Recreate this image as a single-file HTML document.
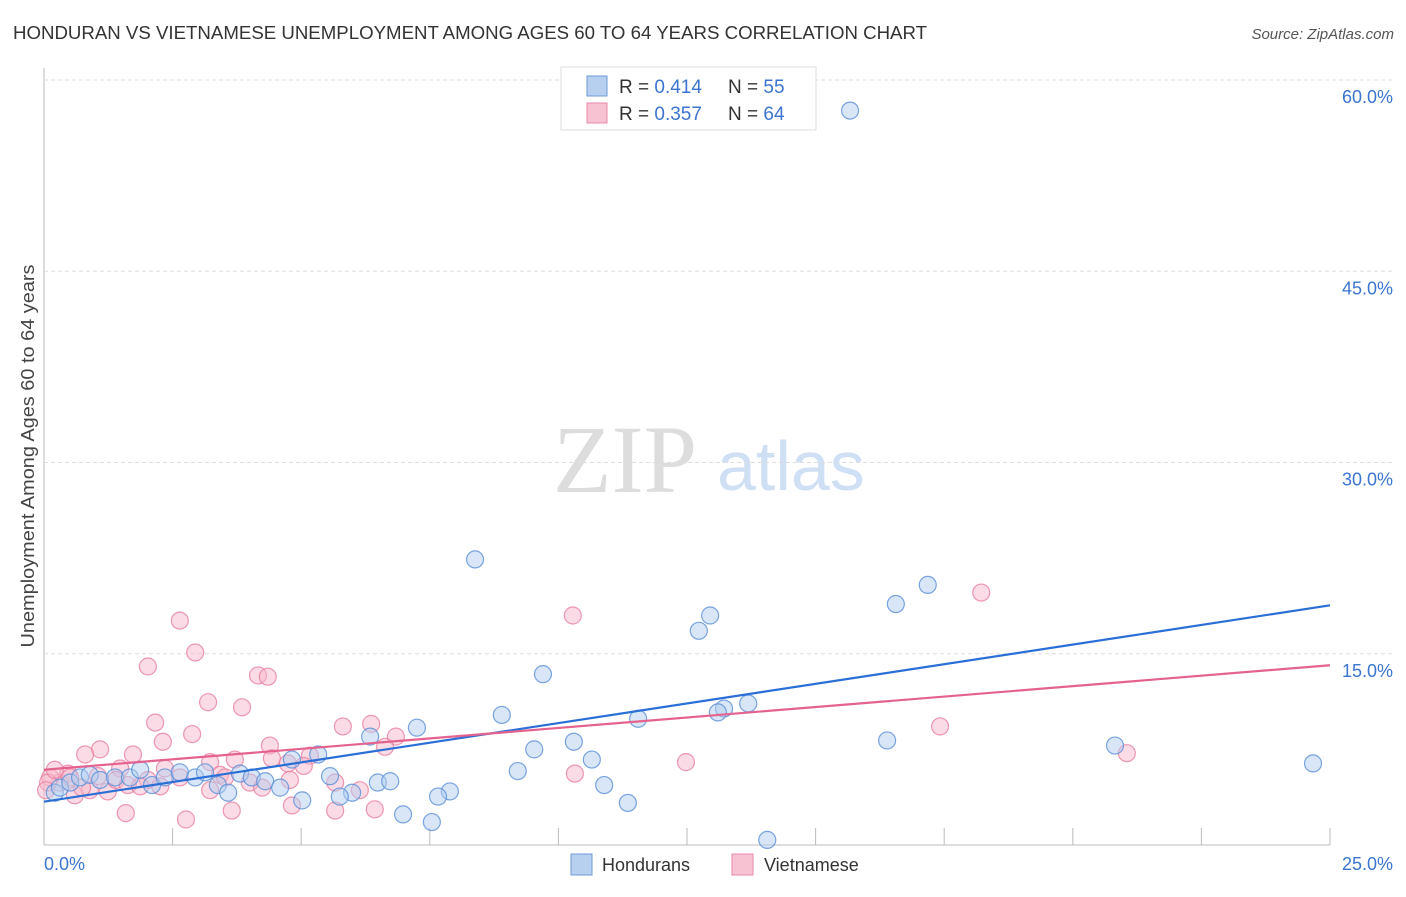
<!DOCTYPE html>
<html><head><meta charset="utf-8"><style>
body{margin:0;background:#fff;font-family:"Liberation Sans",sans-serif}
</style></head><body>
<svg width="1406" height="892" xmlns="http://www.w3.org/2000/svg" id="chart">
<text x="13" y="39" font-size="18" fill="#333" textLength="914" lengthAdjust="spacingAndGlyphs">HONDURAN VS VIETNAMESE UNEMPLOYMENT AMONG AGES 60 TO 64 YEARS CORRELATION CHART</text>
<text x="1394" y="39" font-size="15" fill="#555" font-style="italic" text-anchor="end">Source: ZipAtlas.com</text>
<text transform="translate(34,456) rotate(-90)" font-size="18" fill="#444" text-anchor="middle" textLength="383" lengthAdjust="spacingAndGlyphs">Unemployment Among Ages 60 to 64 years</text>
<g><text x="553" y="492" font-family="Liberation Serif,serif" font-size="96" fill="#ddd">ZIP</text><text x="717" y="490" font-size="70" fill="#cfe0f4">atlas</text></g>
<g id="grid"></g><g id="marks"></g>
<g>
<rect x="561" y="67" width="255" height="63" fill="#fff" stroke="#ddd"/>
<rect x="587" y="76" width="20" height="20" fill="#b8d0f0" stroke="#6d9ad8"/>
<text x="619" y="93" font-size="19" fill="#333">R = <tspan fill="#3b75d0">0.414</tspan></text>
<text x="728" y="93" font-size="19" fill="#333">N = <tspan fill="#3b75d0">55</tspan></text>
<rect x="587" y="103" width="20" height="20" fill="#f7c3d3" stroke="#e88aa8"/>
<text x="619" y="120" font-size="19" fill="#333">R = <tspan fill="#3b75d0">0.357</tspan></text>
<text x="728" y="120" font-size="19" fill="#333">N = <tspan fill="#3b75d0">64</tspan></text>
</g>
<g>
<rect x="571" y="854" width="21" height="21" fill="#b8d0f0" stroke="#6d9ad8"/>
<text x="602" y="871" font-size="18" fill="#333">Hondurans</text>
<rect x="732" y="854" width="21" height="21" fill="#f7c3d3" stroke="#e88aa8"/>
<text x="764" y="871" font-size="18" fill="#333">Vietnamese</text>
</g>
</svg>
<script>
const yTicks=[15,30,45,60];
const xTickLabels=["0.0%","25.0%"];
const blueX=[15.67,8.38,17.18,16.56,12.95,12.73,9.70,13.69,13.22,13.10,11.55,8.90,7.25,6.34,5.33,9.53,10.30,16.39,20.82,24.67,10.65,9.21,5.56,6.49,6.73,10.89,7.89,7.66,5.99,5.75,5.02,11.35,6.98,7.54,14.06,0.21,0.31,0.51,0.70,0.89,1.09,1.38,1.67,1.87,2.10,2.35,2.64,2.94,3.13,3.38,3.58,3.81,4.04,4.30,4.59,4.82];
const blueY=[57.6,22.4,20.4,18.9,18.0,16.8,13.4,11.1,10.7,10.4,9.9,10.2,9.2,8.5,7.1,7.5,8.1,8.2,7.8,6.4,6.7,5.8,5.4,4.9,5.0,4.7,4.2,3.8,4.1,3.8,3.5,3.3,2.4,1.8,0.4,4.1,4.5,4.9,5.3,5.5,5.1,5.3,5.3,5.9,4.7,5.3,5.7,5.3,5.7,4.7,4.1,5.6,5.3,5.0,4.5,6.7];
const pinkX=[18.22,10.28,2.64,2.94,2.02,4.16,4.35,3.19,3.85,2.16,2.88,5.81,6.36,6.84,17.42,2.31,1.73,1.09,0.80,21.05,12.48,10.32,4.39,4.43,3.23,3.71,5.17,5.05,4.74,6.63,2.35,3.42,1.48,4.78,4.00,4.24,3.23,0.89,1.24,0.60,0.31,0.12,0.08,0.47,1.40,1.63,2.02,2.64,3.52,5.66,6.14,1.59,2.76,3.65,4.82,5.66,6.43,0.21,0.51,1.05,1.87,2.26,0.04,0.74];
const pinkY=[19.8,18.0,17.6,15.1,14.0,13.3,13.2,11.2,10.8,9.6,8.7,9.3,9.5,8.5,9.3,8.1,7.1,7.5,7.1,7.2,6.5,5.6,7.8,6.8,6.5,6.7,7.0,6.2,6.4,7.7,6.0,5.5,6.0,5.1,4.9,4.5,4.3,4.3,4.2,3.9,4.9,5.3,4.9,5.6,5.1,4.7,5.1,5.3,5.3,4.9,4.3,2.5,2.0,2.7,3.1,2.7,2.8,5.9,5.3,5.4,4.6,4.6,4.3,4.5];
const blueTrend=[3.4,18.8];
const pinkTrend=[5.9,14.1];
const X0=44,X1=1330,Y0=845,Y60=80;
const sx=v=>X0+(X1-X0)*v/25, sy=v=>Y0-(Y0-Y60)*v/60;
const NS="http://www.w3.org/2000/svg";
function mk(t,a,p){const e=document.createElementNS(NS,t);for(const k in a)e.setAttribute(k,a[k]);p.appendChild(e);return e;}
const grid=document.getElementById('grid'),marks=document.getElementById('marks');
mk('line',{x1:X0,y1:68,x2:X0,y2:Y0,stroke:'#bbb'},grid);
const xa=mk('line',{x1:X0,y1:Y0,x2:X1,y2:Y0,stroke:'#bbb'},grid);


for(let i=1;i<=10;i++){const x=sx(i*2.5);const t=mk('line',{x1:x,y1:828,x2:x,y2:Y0,stroke:'#bbb'},grid);

}
yTicks.forEach(v=>{const y=sy(v);const g=mk('line',{x1:X0,y1:y,x2:1394,y2:y,stroke:'#ddd','stroke-dasharray':'4,3'},grid);


const t=mk('text',{x:1393,y:y+23,'font-size':18,fill:'#3b75d0','text-anchor':'end'},grid);t.textContent=v.toFixed(1)+'%';

});
xTickLabels.forEach((s,i)=>{const t=mk('text',{x:i?1393:44,y:870,'font-size':18,fill:'#3b75d0','text-anchor':i?'end':'start'},grid);t.textContent=s;

});
function pts(xs,ys,fill,stroke,name){xs.forEach((v,i)=>{const c=mk('circle',{cx:sx(v),cy:sy(ys[i]),r:8.5,fill:fill,'fill-opacity':0.5,stroke:stroke,'stroke-width':1.2,'stroke-opacity':0.8},marks);

});}
pts(pinkX,pinkY,'#f7b8cb','#e8809f','vietnamese-point');
pts(blueX,blueY,'#b4cdf0','#5a8fd8','honduran-point');
const lb=mk('line',{x1:sx(0),y1:sy(blueTrend[0]),x2:sx(25),y2:sy(blueTrend[1]),stroke:'#2a6fd6','stroke-width':2.2},marks);


const lp=mk('line',{x1:sx(0),y1:sy(pinkTrend[0]),x2:sx(25),y2:sy(pinkTrend[1]),stroke:'#e4628e','stroke-width':2.2},marks);


</script>
</body></html>
